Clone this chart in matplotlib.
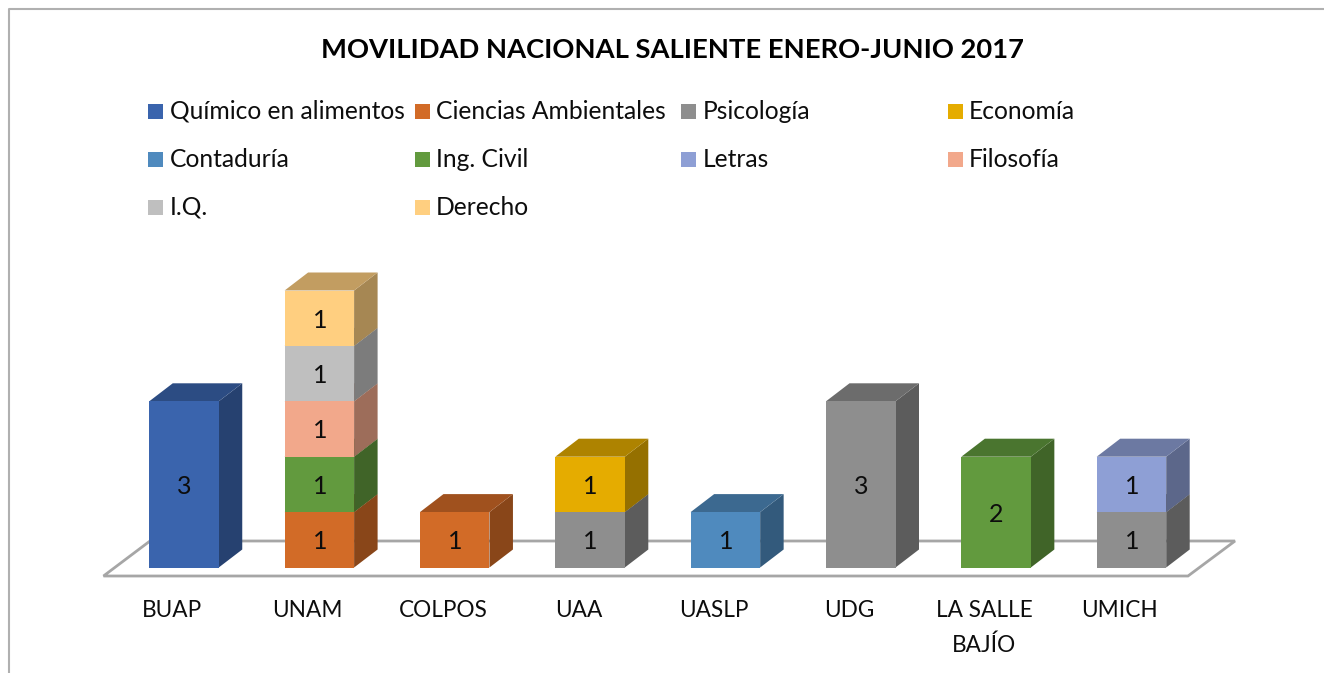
import numpy as np
import matplotlib
matplotlib.use('Agg')
import matplotlib.pyplot as plt
from matplotlib.lines import Line2D
from matplotlib.patches import Polygon, Rectangle
from matplotlib.colors import to_rgb

plt.rcParams['font.family'] = ['Lato', 'DejaVu Sans']

title = 'MOVILIDAD NACIONAL SALIENTE ENERO-JUNIO 2017'
categories = ['BUAP', 'UNAM', 'COLPOS', 'UAA', 'UASLP', 'UDG', 'LA SALLE\nBAJÍO', 'UMICH']

series_names = ['Químico en alimentos', 'Ciencias Ambientales', 'Psicología', 'Economía',
                'Contaduría', 'Ing. Civil', 'Letras', 'Filosofía', 'I.Q.', 'Derecho']
quimico = [3, 0, 0, 0, 0, 0, 0, 0]
ciencias = [0, 1, 1, 0, 0, 0, 0, 0]
psicologia = [0, 0, 0, 1, 0, 3, 0, 1]
economia = [0, 0, 0, 1, 0, 0, 0, 0]
contaduria = [0, 0, 0, 0, 1, 0, 0, 0]
ing_civil = [0, 1, 0, 0, 0, 0, 2, 0]
letras = [0, 0, 0, 0, 0, 0, 0, 1]
filosofia = [0, 1, 0, 0, 0, 0, 0, 0]
iq = [0, 1, 0, 0, 0, 0, 0, 0]
derecho = [0, 1, 0, 0, 0, 0, 0, 0]
series_values = [quimico, ciencias, psicologia, economia, contaduria,
                 ing_civil, letras, filosofia, iq, derecho]
colors = ['#3A64AD', '#D26B27', '#8E8E8E', '#E5AC00', '#4F8ABE',
          '#629A3E', '#8E9FD5', '#F2A88B', '#BFBFBF', '#FFCF80']

W, H = 1324, 673
STEP = 135.35    # px entre categorias
UNIT = 55.4     # px por unidad
X0, Y0 = 184.0, 567.5   # centro de la primera barra, base de las barras
AX_BOTTOM = 600
BAR_W = 69.5 / STEP
DX, DY = 23.5 / STEP, 18.0 / UNIT  # profundidad de las barras


def shade(color, f):
    return tuple(c * f for c in to_rgb(color))


def px_x(p):
    return (p - X0) / STEP


def px_y(p):
    return (Y0 - p) / UNIT


fig = plt.figure(figsize=(W / 100, H / 100), dpi=100)
ax = fig.add_axes([0, (H - AX_BOTTOM) / H, 1, AX_BOTTOM / H])
ax.set_xlim(px_x(0), px_x(W))
ax.set_ylim(px_y(AX_BOTTOM), px_y(0))
for s in ax.spines.values():
    s.set_visible(False)
ax.set_yticks([])

# piso
floor = Polygon([(px_x(103.5), px_y(576)), (px_x(1188), px_y(576)),
                 (px_x(1235), px_y(541)), (px_x(150), px_y(541))],
                closed=True, fill=False, edgecolor='#A6A6A6', lw=2, zorder=1)
ax.add_patch(floor)

# barras apiladas
x = np.arange(len(categories))
bottom = np.zeros(len(categories))
zo = 2
for vals, col in zip(series_values, colors):
    vals = np.array(vals, dtype=float)
    for i in np.nonzero(vals)[0]:
        l, r = x[i] - BAR_W / 2, x[i] + BAR_W / 2
        b, t = bottom[i], bottom[i] + vals[i]
        ax.add_patch(Polygon([(r, b), (r + DX, b + DY), (r + DX, t + DY), (r, t)],
                             facecolor=shade(col, 0.65), edgecolor='none', zorder=zo))
        ax.add_patch(Polygon([(l, t), (r, t), (r + DX, t + DY), (l + DX, t + DY)],
                             facecolor=shade(col, 0.76), edgecolor='none', zorder=zo))
        ax.bar(x[i], vals[i], BAR_W, bottom=b, color=col, zorder=zo + 1)
        ax.annotate('%d' % vals[i], (x[i], b + vals[i] / 2), xytext=(0.5, -2),
                    textcoords='offset pixels', ha='center', va='center',
                    fontsize=18, color='#0D0D0D', zorder=zo + 2)
    bottom += vals
    zo += 3

# etiquetas del eje, centradas en el piso
ax.set_xticks(x - 11.7 / STEP)
ax.set_xticklabels(categories, fontsize=16.3, color='#0D0D0D', linespacing=1.75)
ax.tick_params(axis='x', length=0, pad=0)

fig.text(672 / W, 1 - 49.5 / H, title, ha='center', va='center', fontsize=19.7,
         fontweight='bold', color='black')

# leyenda: 4 columnas de igual ancho, llenando por filas
for n, (name, col) in enumerate(zip(series_names, colors)):
    r, c = divmod(n, 4)
    lx = 148 + 266.5 * c
    ly = 111.5 + 48 * r
    fig.add_artist(Rectangle((lx / W, 1 - (ly + 7.5) / H), 15 / W, 15 / H,
                             transform=fig.transFigure, facecolor=col, edgecolor='none'))
    fig.text((lx + 21.5) / W, 1 - (ly + 7.5) / H, name, ha='left', va='baseline',
             fontsize=17.7, color='#0D0D0D')

# marco del grafico (cortado a la derecha y abajo)
fig.add_artist(Line2D([8.5 / W, 8.5 / W, 1], [0, 1 - 8.5 / H, 1 - 8.5 / H],
                      transform=fig.transFigure, color='#B0B0B0', lw=1.5))

fig.savefig('out.png', dpi=100)
